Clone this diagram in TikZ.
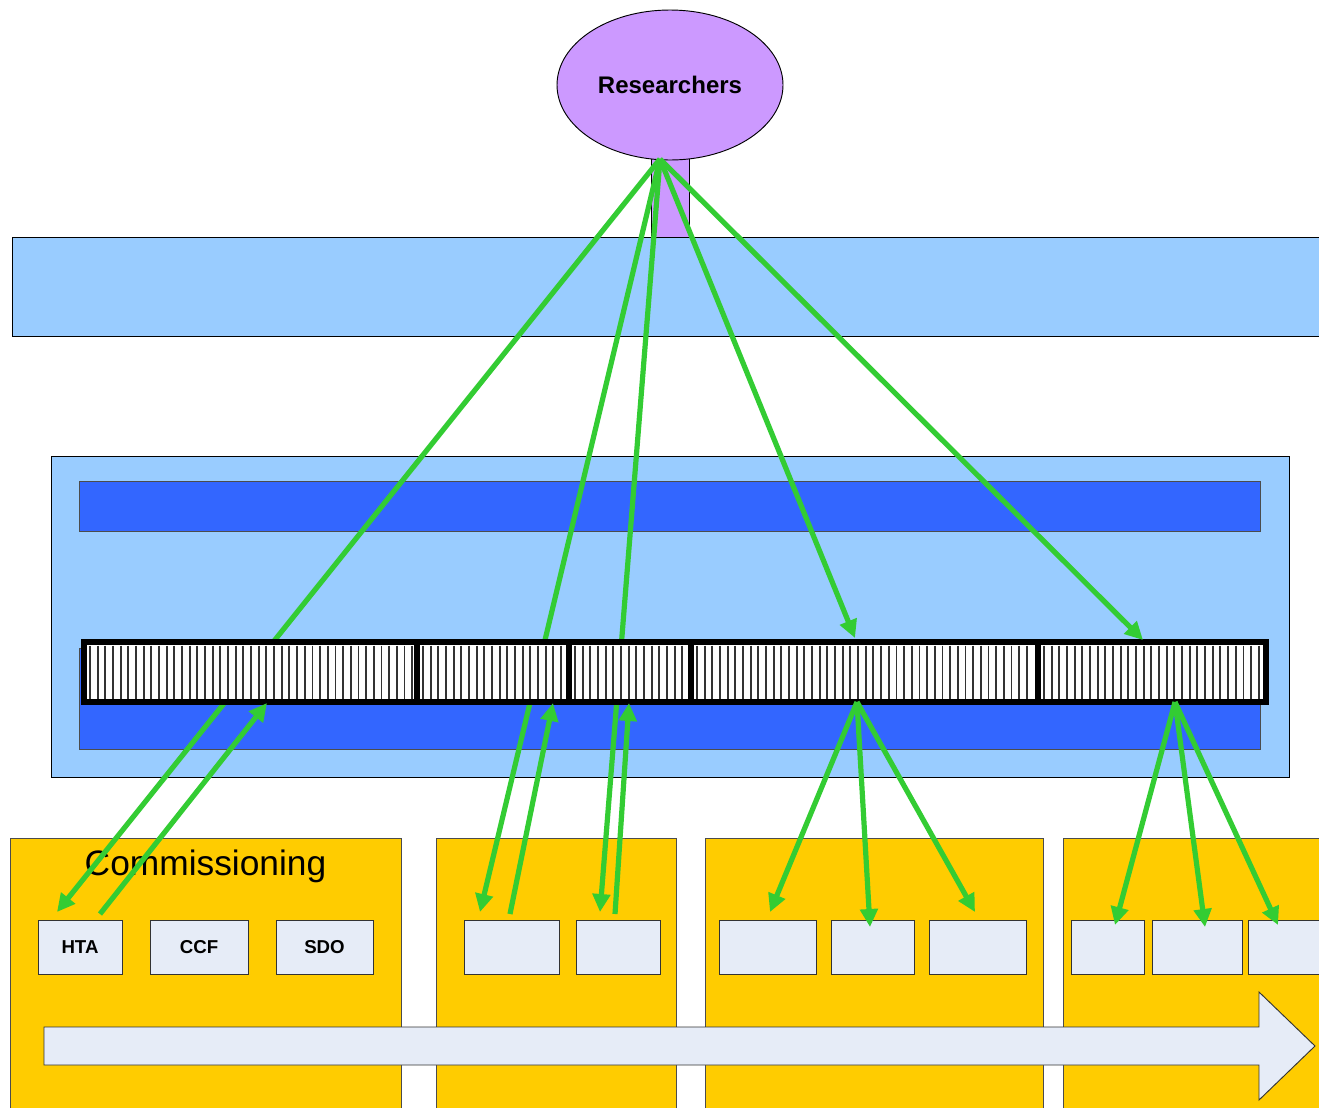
\documentclass[tikz,border=0pt]{standalone}
\usepackage{fontspec}
\setmainfont{Liberation Sans}
\usetikzlibrary{shapes.geometric,arrows.meta,calc}
\definecolor{lblue}{HTML}{99CCFF}
\definecolor{dblue}{HTML}{3366FF}
\definecolor{yel}{HTML}{FFCC00}
\definecolor{purp}{HTML}{CC99FF}
\definecolor{boxf}{HTML}{E6ECF7}
\definecolor{grn}{HTML}{33CC33}
\newcommand\rectnode[7]{\node[#1, minimum width={(#5-#3)*0.75pt}, minimum height={(#6-#4)*0.75pt}] (#2) at ({(#3+#5)/2},{(#4+#6)/2}) {#7};}
\begin{document}
\begin{tikzpicture}[x=0.75pt,y=-0.75pt,
  base/.style={rectangle, inner sep=0pt, outer sep=0pt},
  band/.style={base, fill=lblue, draw=black, line width=0.7pt},
  darkbar/.style={base, fill=dblue, draw=black!70, line width=0.5pt},
  panel/.style={base, fill=yel, draw=black!70, line width=0.7pt},
  smallbox/.style={base, fill=boxf, draw=black!80, line width=0.7pt, font=\bfseries\fontsize{14}{16}\selectfont},
  seg/.style={base, fill=white, draw=black, line width=4.5pt},
  stripe/.style={draw=black!80, line width=1.4pt},
  garrow/.style={draw=grn, line width=3.9pt, -{Triangle[length=13.5pt,width=13pt]}},
  gline/.style={draw=grn, line width=3.9pt}]
\clip (0,0) rectangle (1319,1107);
\fill[white] (0,0) rectangle (1319,1107);
% stem and top band
\rectnode{base, fill=purp, draw=black, line width=0.7pt}{stem}{651}{150}{689}{237}{}
\rectnode{band}{topband}{12}{237}{1335}{336}{}
\node[ellipse, fill=purp, draw=black, line width=0.7pt, inner sep=0pt,
  minimum width={226*0.75pt}, minimum height={150*0.75pt},
  font=\bfseries\fontsize{18}{20}\selectfont] (res) at (670,85) {Researchers};
% middle panel
\rectnode{band}{midpanel}{51}{456}{1289}{777}{}
\rectnode{darkbar}{bartop}{79}{481}{1260}{531}{}
\rectnode{darkbar}{barbot}{79}{648}{1260}{749}{}
% yellow panels
\rectnode{panel}{p1}{10}{838}{401}{1120}{}
\rectnode{panel}{p2}{436}{838}{676}{1120}{}
\rectnode{panel}{p3}{705}{838}{1043}{1120}{}
\rectnode{panel}{p4}{1063}{838}{1340}{1120}{}
\node[font=\fontsize{26.5}{30}\selectfont, inner sep=0pt] (comm) at (205.5,866) {Commissioning};
% small boxes
\rectnode{smallbox}{hta}{38}{920}{122}{974}{HTA}
\rectnode{smallbox}{ccf}{150}{920}{248}{974}{CCF}
\rectnode{smallbox}{sdo}{276}{920}{373}{974}{SDO}
\rectnode{smallbox}{b21}{464}{920}{559}{974}{}
\rectnode{smallbox}{b22}{576}{920}{660}{974}{}
\rectnode{smallbox}{b31}{719}{920}{816}{974}{}
\rectnode{smallbox}{b32}{831}{920}{914}{974}{}
\rectnode{smallbox}{b33}{929}{920}{1026}{974}{}
\rectnode{smallbox}{b41}{1071}{920}{1144}{974}{}
\rectnode{smallbox}{b42}{1152}{920}{1242}{974}{}
\rectnode{smallbox}{b43}{1248}{920}{1340}{974}{}
% big process arrow
\draw[fill=boxf, draw=black!80, line width=0.7pt] (44,1027) -- (1259,1027) -- (1259,992) -- (1315,1046) -- (1259,1100) -- (1259,1065) -- (44,1065) -- cycle;
% coordinates
\coordinate (hub) at (660,159);
\coordinate (t1) at (57,912);
\coordinate (s2) at (100,914);
\coordinate (t2) at (267,703);
\coordinate (t3) at (480,912);
\coordinate (s4) at (510,914);
\coordinate (t4) at (553,703);
\coordinate (t5) at (600,912);
\coordinate (s6) at (615,914);
\coordinate (t6) at (629,703);
\coordinate (t7) at (855,638);
\coordinate (t8) at (1143,640);
\coordinate (s9) at (857,702);
\coordinate (t9a) at (770,912);
\coordinate (t9b) at (870,927);
\coordinate (t9c) at (975,912);
\coordinate (s10) at (1175,702);
\coordinate (t10a) at (1115,925);
\coordinate (t10b) at (1205,927);
\coordinate (t10c) at (1278,925);
% long arrows behind the bar
\draw[garrow] (hub) -- (t1);
\draw[garrow] (hub) -- (t3);
\draw[garrow] (hub) -- (t5);
% striped bar
\rectnode{seg}{seg1}{84}{642}{417}{702}{}
\rectnode{seg}{seg2}{417}{642}{569}{702}{}
\rectnode{seg}{seg3}{569}{642}{691}{702}{}
\rectnode{seg}{seg4}{691}{642}{1038}{702}{}
\rectnode{seg}{seg5}{1038}{642}{1266}{702}{}
\foreach \a/\b in {84/417,417/569,569/691,691/1038,1038/1266}{
  \pgfmathsetmacro\s{\a+6}
  \pgfmathsetmacro\t{\a+6+7.67}
  \pgfmathsetmacro\e{\b-4}
  \foreach \x in {\s,\t,...,\e} \draw[stripe] (\x,645.5) -- (\x,698.5);
}
% other arrows
\draw[garrow] (s2) -- (t2);
\draw[garrow] (s4) -- (t4);
\draw[garrow] (s6) -- (t6);
\draw[garrow] (hub) -- (t7);
\draw[garrow] (hub) -- (t8);
\draw[garrow] (s9) -- (t9a);
\draw[garrow] (s9) -- (t9b);
\draw[garrow] (s9) -- (t9c);
\draw[garrow] (s10) -- (t10a);
\draw[garrow] (s10) -- (t10b);
\draw[garrow] (s10) -- (t10c);
\end{tikzpicture}
\end{document}
